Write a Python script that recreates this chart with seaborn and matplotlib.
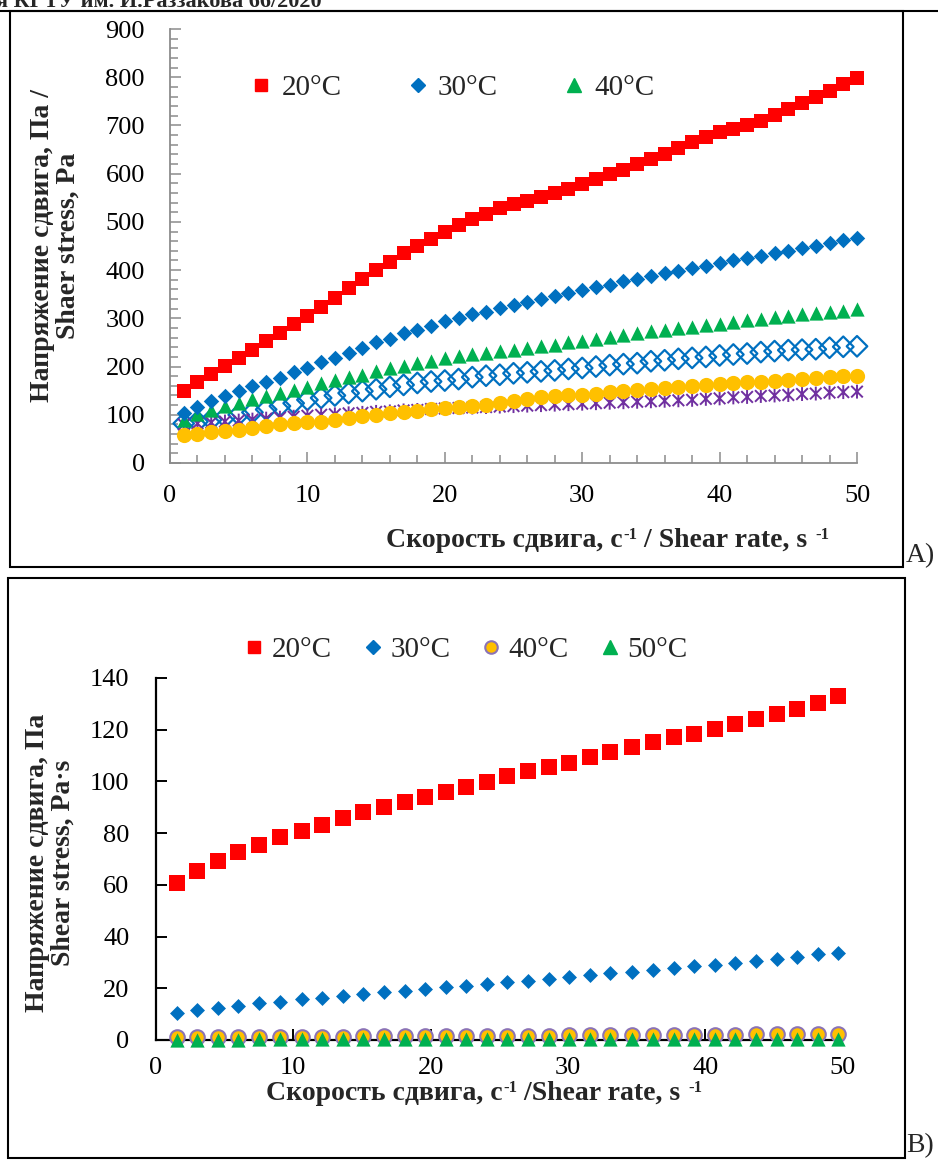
import matplotlib
matplotlib.use("Agg")
import matplotlib.pyplot as plt
import seaborn as sns
from matplotlib.lines import Line2D
from matplotlib.patches import Rectangle
from matplotlib.path import Path
from matplotlib.ticker import MultipleLocator

W, H = 938, 1160

# ---- panel A: shear stress vs shear rate ----
rate_a = [1, 2, 3, 4, 5, 6, 7, 8, 9, 10, 11, 12, 13, 14, 15, 16, 17, 18, 19, 20,
          21, 22, 23, 24, 25, 26, 27, 28, 29, 30, 31, 32, 33, 34, 35, 36, 37, 38, 39, 40,
          41, 42, 43, 44, 45, 46, 47, 48, 49, 50]
a_20 = [150, 169, 185, 201, 218, 235, 252, 270, 288, 305, 323, 343, 363, 382, 400, 417, 436, 451, 465, 480,
        494, 506, 517, 528, 537, 543, 551, 559, 569, 578, 588, 599, 608, 620, 630, 641, 654, 666, 677, 686,
        693, 700, 710, 722, 734, 747, 759, 772, 786, 799]
a_30 = [104, 117, 128, 138, 149, 159, 167, 176, 189, 197, 209, 218, 229, 238, 251, 258, 270, 276, 285, 294,
        301, 308, 314, 321, 328, 333, 340, 347, 352, 359, 366, 370, 377, 382, 388, 394, 399, 404, 409, 415,
        420, 426, 430, 435, 440, 446, 451, 456, 462, 467]
a_40 = [90, 102, 110, 118, 125, 133, 139, 145, 152, 158, 166, 172, 179, 183, 190, 196, 201, 207, 212, 217,
        221, 225, 229, 233, 235, 238, 242, 245, 250, 254, 258, 261, 266, 270, 273, 276, 280, 283, 287, 289,
        292, 296, 299, 302, 304, 308, 311, 313, 316, 319]
a_open = [82, 86, 90, 95, 100, 105, 111, 118, 124, 131, 135, 140, 145, 149, 153, 158, 162, 166, 169, 171,
          174, 178, 181, 183, 186, 188, 190, 192, 195, 197, 200, 203, 205, 207, 211, 213, 216, 218, 220, 223,
          225, 227, 230, 232, 234, 235, 236, 239, 241, 242]
a_star = [80, 82, 84, 86, 88, 90, 92, 94, 96, 98, 100, 101, 103, 104, 106, 107, 109, 110, 112, 113,
          114, 115, 116, 117, 118, 119, 120, 121, 122, 123, 124, 125, 126, 127, 128, 129, 130, 131, 133, 134,
          136, 137, 139, 140, 141, 143, 144, 146, 147, 148]
a_circle = [59, 61, 64, 66, 69, 73, 76, 80, 82, 84, 86, 90, 93, 97, 100, 104, 105, 107, 111, 114,
            116, 119, 121, 124, 129, 133, 136, 138, 140, 142, 144, 147, 149, 151, 153, 156, 158, 159, 161, 163,
            166, 167, 169, 171, 173, 174, 176, 178, 180, 181]
legend_a = ["20°C", "30°C", "40°C"]

# ---- panel B ----
rate_b = [1.5, 3.0, 4.5, 6.0, 7.5, 9.0, 10.6, 12.1, 13.6, 15.1, 16.6, 18.1, 19.6, 21.1, 22.6, 24.1, 25.6,
          27.1, 28.6, 30.1, 31.6, 33.1, 34.7, 36.2, 37.7, 39.2, 40.7, 42.2, 43.7, 45.2, 46.7, 48.2, 49.7]
b_20 = [60.6, 65.5, 69.1, 72.6, 75.6, 78.4, 81.0, 83.3, 85.7, 88.0, 90.0, 92.0, 93.9, 96.1, 98.0, 99.7, 102.2,
        104.2, 105.4, 107.3, 109.3, 111.3, 113.3, 115.2, 117.1, 118.3, 120.2, 122.2, 124.1, 126.2, 128.1, 130.3, 133.1]
b_30 = [10.6, 11.6, 12.5, 13.3, 14.2, 14.8, 15.7, 16.4, 17.0, 17.8, 18.4, 19.1, 19.7, 20.4, 21.0, 21.7, 22.3,
        23.0, 23.6, 24.3, 25.2, 25.8, 26.4, 27.1, 27.7, 28.6, 29.0, 29.9, 30.7, 31.3, 32.0, 33.2, 33.8]
b_40 = [1.0, 1.0, 1.1, 1.1, 1.2, 1.2, 1.2, 1.3, 1.3, 1.4, 1.4, 1.4, 1.5, 1.5, 1.6, 1.6, 1.6,
        1.7, 1.7, 1.8, 1.8, 1.8, 1.9, 1.9, 2.0, 2.0, 2.1, 2.1, 2.2, 2.2, 2.3, 2.3, 2.4]
b_50 = [0.1, 0.1, 0.1, 0.1, 0.2, 0.2, 0.2, 0.2, 0.2, 0.2, 0.3, 0.3, 0.3, 0.3, 0.3, 0.3, 0.3,
        0.4, 0.4, 0.4, 0.4, 0.4, 0.4, 0.4, 0.4, 0.4, 0.5, 0.5, 0.5, 0.5, 0.5, 0.5, 0.5]
legend_b = ["20°C", "30°C", "40°C", "50°C"]

RED, BLUE, GREEN, YELLOW, PURPLE = "#FF0000", "#0070C0", "#00B050", "#FFC000", "#7030A0"

sns.set_theme(style="white")
plt.rcParams['font.family'] = ['Liberation Serif', 'DejaVu Serif']


def fx(px):
    return px / W


def fy(py):
    return 1 - py / H


def draw(ax, x, y, **kw):
    sns.scatterplot(x=x, y=y, ax=ax, clip_on=False, legend=False, **kw)


def rate_label(ax, x_px, y_px, parts):
    """Axis title made of bold pieces with small raised '-1' superscripts."""
    t = fig.text(fx(x_px), fy(y_px), parts[0], ha="left", va="bottom",
                 fontsize=20, fontweight="bold")
    base = t
    for i, piece in enumerate(parts[1:]):
        sup = i % 2 == 0
        t = ax.annotate(piece, xy=(1, 0), xycoords=(t, base),
                        xytext=(0.5, 7) if sup else (0, 0), textcoords="offset points",
                        ha="left", va="bottom", fontsize=12 if sup else 20,
                        fontweight="bold", annotation_clip=False)
    return t


# asterisk-like marker: an x with a vertical bar
STAR = Path([(-1, -1), (1, 1), (-1, 1), (1, -1), (0, -1.2), (0, 1.2)],
            [Path.MOVETO, Path.LINETO] * 3)

fig = plt.figure(figsize=(W / 100, H / 100), dpi=100)
ax_a = fig.add_axes([fx(170), fy(463), fx(857) - fx(170), fy(29) - fy(463)])
ax_b = fig.add_axes([fx(156), fy(1040), fx(842.5) - fx(156), fy(678) - fy(1040)])

# ---- panel A ----
draw(ax_a, rate_a, a_open, marker="D", s=110, facecolor="none", edgecolor=BLUE, linewidth=1.6, zorder=3)
draw(ax_a, rate_a, a_star, marker=STAR, s=100, facecolor="none", edgecolor=PURPLE, linewidth=1.4, zorder=3)
draw(ax_a, rate_a, a_circle, marker="o", s=120, color=YELLOW, edgecolor=YELLOW, linewidth=0, zorder=4)
draw(ax_a, rate_a, a_40, marker="^", s=105, color=GREEN, edgecolor=GREEN, linewidth=0, zorder=5)
draw(ax_a, rate_a, a_30, marker="D", s=62, color=BLUE, edgecolor=BLUE, linewidth=0, zorder=6)
draw(ax_a, rate_a, a_20, marker="s", s=90, color=RED, edgecolor=RED, linewidth=0, zorder=7)

ax_a.set_xlim(0, 50)
ax_a.set_ylim(0, 900)
ax_a.xaxis.set_major_locator(MultipleLocator(10))
ax_a.xaxis.set_minor_locator(MultipleLocator(2))
ax_a.yaxis.set_major_locator(MultipleLocator(100))
ax_a.yaxis.set_minor_locator(MultipleLocator(20))
for side in ["top", "right"]:
    ax_a.spines[side].set_visible(False)
for side in ["left", "bottom"]:
    ax_a.spines[side].set_color("#8C8C8C")
    ax_a.spines[side].set_linewidth(1.3)
ax_a.tick_params(which="both", direction="in", color="#8C8C8C", width=1.1,
                 left=True, bottom=True, labelsize=19, labelcolor="black")
ax_a.tick_params(which="major", length=8)
ax_a.tick_params(which="minor", length=6)
ax_a.tick_params(axis="y", pad=18)
ax_a.tick_params(axis="x", pad=16)
ax_a.set_xlabel("")
ax_a.set_ylabel("")

handles_a = [
    Line2D([], [], ls="none", marker="s", ms=9, color=RED),
    Line2D([], [], ls="none", marker="D", ms=7.5, color=BLUE),
    Line2D([], [], ls="none", marker="^", ms=10, color=GREEN),
]
ax_a.legend(handles_a, legend_a, ncol=3, frameon=False, loc="center",
            bbox_to_anchor=((452 - 170) / 687, (463 - 88) / 434), fontsize=21,
            handlelength=0.8, handletextpad=0.3, columnspacing=2.2)

ax_a.text((55 - 170) / 687, 0.5, "Напряжение сдвига, Па /\nShaer stress, Pa",
          transform=ax_a.transAxes, rotation=90, ha="center", va="center",
          fontsize=20, fontweight="bold", linespacing=1.05)
rate_label(ax_a, 386, 553, ["Скорость сдвига, с", "-1", " / Shear rate, s ", "-1"])

# ---- panel B ----
draw(ax_b, rate_b, b_40, marker="o", s=110, color=YELLOW, edgecolor="#8B73B5", linewidth=1.5, zorder=4)
draw(ax_b, rate_b, b_50, marker="^", s=105, color=GREEN, edgecolor=GREEN, linewidth=0, zorder=5)
draw(ax_b, rate_b, b_30, marker="D", s=58, color=BLUE, edgecolor=BLUE, linewidth=0, zorder=6)
draw(ax_b, rate_b, b_20, marker="s", s=118, color=RED, edgecolor=RED, linewidth=0, zorder=7)

ax_b.set_xlim(0, 50)
ax_b.set_ylim(0, 140)
ax_b.xaxis.set_major_locator(MultipleLocator(10))
ax_b.yaxis.set_major_locator(MultipleLocator(20))
for side in ["top", "right"]:
    ax_b.spines[side].set_visible(False)
for side in ["left", "bottom"]:
    ax_b.spines[side].set_color("black")
    ax_b.spines[side].set_linewidth(1.6)
    ax_b.spines[side].set_zorder(3)
ax_b.tick_params(direction="in", color="black", width=1.4, length=8,
                 left=True, bottom=True, labelsize=19, labelcolor="black")
ax_b.tick_params(axis="y", pad=19)
ax_b.tick_params(axis="x", pad=12)
ax_b.set_xlabel("")
ax_b.set_ylabel("")

handles_b = [
    Line2D([], [], ls="none", marker="s", ms=8.5, color=RED),
    Line2D([], [], ls="none", marker="D", ms=7, color=BLUE),
    Line2D([], [], ls="none", marker="o", ms=9, markerfacecolor=YELLOW, markeredgecolor="#8B73B5", mew=1.5),
    Line2D([], [], ls="none", marker="^", ms=9.5, color=GREEN),
]
ax_b.legend(handles_b, legend_b, ncol=4, frameon=False, loc="center",
            bbox_to_anchor=((465 - 156) / 686.5, (1040 - 650) / 362), fontsize=21,
            handlelength=0.8, handletextpad=0.2, columnspacing=1.0)

ax_b.text((50 - 156) / 686.5, 0.49, "Напряжение сдвига, Па\nShear stress, Pa·s",
          transform=ax_b.transAxes, rotation=90, ha="center", va="center",
          fontsize=20, fontweight="bold", linespacing=1.05)
rate_label(ax_b, 266, 1106, ["Скорость сдвига, с", "-1", " /Shear rate, s ", "-1"])

# ---- page frames and panel letters ----
fig.add_artist(Line2D([0, 1], [fy(11), fy(11)], transform=fig.transFigure, color="black", lw=1.5))
fig.add_artist(Rectangle((fx(10), fy(567)), fx(903) - fx(10), fy(11) - fy(567),
                         transform=fig.transFigure, fill=False, edgecolor="black", lw=1.5))
fig.add_artist(Rectangle((fx(8), fy(1158)), fx(905) - fx(8), fy(578) - fy(1158),
                         transform=fig.transFigure, fill=False, edgecolor="black", lw=1.5))
fig.text(fx(906), fy(556), "A)", ha="left", va="center", fontsize=20)
fig.text(fx(906), fy(1146), "B)", ha="left", va="center", fontsize=20)
fig.text(fx(322), fy(2), "Известия КГТУ им. И.Раззакова 66/2020", ha="right", va="center",
         fontsize=16, fontweight="bold")

fig.savefig("out.png", dpi=100)
